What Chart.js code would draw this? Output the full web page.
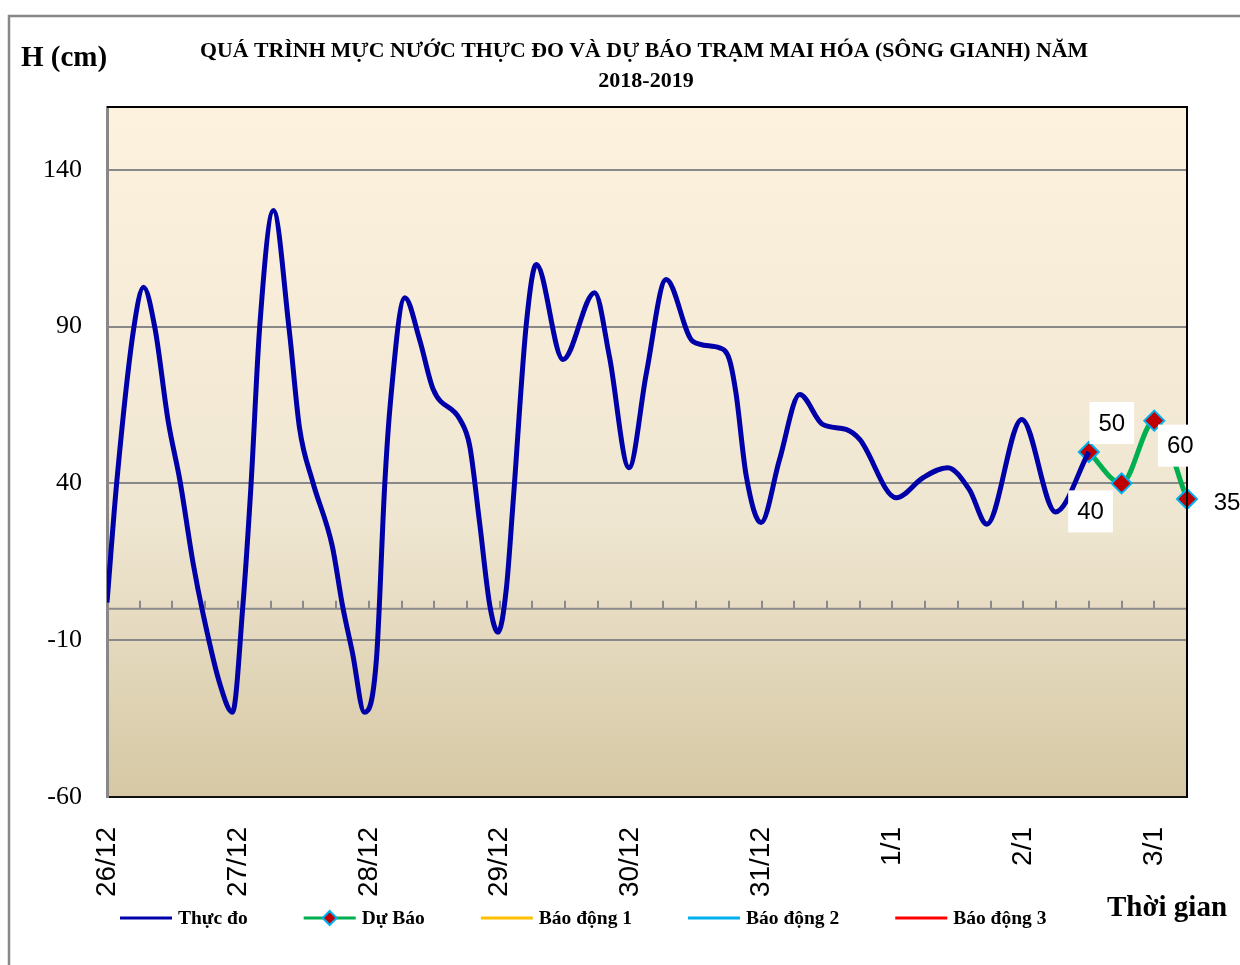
<!DOCTYPE html>
<html>
<head>
<meta charset="utf-8">
<title>Mực nước Mai Hóa</title>
<script src="https://cdn.jsdelivr.net/npm/chart.js@4.4.1/dist/chart.umd.min.js"></script>
<style>
    html, body { margin: 0; padding: 0; background: #ffffff; }
    #wrap { width: 1240px; height: 965px; position: relative; }
</style>
</head>
<body>
<div id="wrap"><canvas id="lineChart" width="1240" height="965"></canvas></div>
<script>
// Time axis: hours counted from 26/12 00h
const dayHours = [0, 24, 48, 72, 96, 120, 144, 168, 192];
const dayLabels = ['26/12', '27/12', '28/12', '29/12', '30/12', '31/12', '1/1', '2/1', '3/1'];
const yTicks = [-60, -10, 40, 90, 140];

const obsHours = [0, 1.8, 4.9, 6.7, 8.8, 11.2, 13.4, 15.8, 17.6, 20.7, 23, 24.9, 26.4, 28, 30.5,
    33.4, 35.3, 37.7, 41.3, 43.2, 45, 47.2, 49.4, 50.9, 51.9, 54.6, 57.3, 59.8, 64.7, 66.5, 68.3,
    70.2, 71.7, 73.2, 74.4, 76.9, 78.7, 83.6, 89.4, 92.1, 95.7, 98.9, 102.5,
    107.4, 112.3, 114.1, 115.3, 117.2, 119.9, 123.3, 127, 131.2, 135.5, 138, 144.7, 149.6, 154.1,
    158.1, 161.3, 167.7, 173.9, 180];
const obsValues = [2, 40.6, 89.4, 102.5, 89.4, 60, 40.6, 14.4, -1.5, -24, -33, 0.8, 39.4, 90, 127,
    89, 57.6, 40.6, 20, 0.8, -14, -33, -16, 39, 64.6, 99.2, 85.9, 70, 60.4, 51.9, 27.6,
    0.9, -7.5, 6.2, 32.7, 91.3, 109.8, 79.5, 100.8, 80.5, 45, 75.3, 105,
    85.3, 83.2, 79.5, 68.9, 42.3, 27.5, 47.6, 68.3, 58.8, 57.2, 54, 35.4, 41.8, 45,
    38, 27, 60.4, 30.9, 50];

// Dự Báo (forecast)
const fcHours = [180, 186, 192, 198];
const fcValues = [50, 40, 60, 35];

// style only: where each forecast value label sits relative to its marker
const fcLabelOffsets = [[23, -29], [-31, 28], [26, 25], [40, 3]];

const pairs = (xs, ys) => xs.map((x, i) => ({ x: x, y: ys[i] }));

// background gradient, frame, title, axis names
const decorPlugin = {
    id: 'decor',
    beforeDraw(chart) {
        const ctx = chart.ctx;
        const a = chart.chartArea;
        ctx.save();
        ctx.fillStyle = '#ffffff';
        ctx.fillRect(0, 0, chart.width, chart.height);
        ctx.strokeStyle = '#888888';
        ctx.lineWidth = 2.5;
        ctx.strokeRect(9, 16, chart.width + 20, chart.height + 20);

        const g = ctx.createLinearGradient(0, a.top, 0, a.bottom);
        g.addColorStop(0, '#FDF2DE');
        g.addColorStop(0.6, '#EFE6D1');
        g.addColorStop(1, '#D6C8A4');
        ctx.fillStyle = g;
        ctx.fillRect(a.left, a.top, a.right - a.left, a.bottom - a.top);

        ctx.fillStyle = '#000000';
        ctx.textAlign = 'center';
        ctx.textBaseline = 'middle';
        ctx.font = 'bold 22px "Liberation Serif"';
        ctx.fillText('QUÁ TRÌNH MỰC NƯỚC THỰC ĐO VÀ DỰ BÁO TRẠM MAI HÓA (SÔNG GIANH) NĂM', 644, 51, 888);
        ctx.fillText('2018-2019', 646, 81);
        ctx.textAlign = 'left';
        ctx.font = 'bold 29px "Liberation Serif"';
        ctx.fillText('H (cm)', 21, 59, 87);
        ctx.fillText('Thời gian', 1107, 909, 121);
        ctx.restore();
    },
    beforeDatasetsDraw(chart) {
        // zero line with 6-hour tick marks
        const ctx = chart.ctx;
        const a = chart.chartArea;
        const xs = chart.scales.x;
        const y0 = chart.scales.y.getPixelForValue(0);
        ctx.save();
        ctx.strokeStyle = '#8a8a8a';
        ctx.lineWidth = 2;
        ctx.beginPath();
        ctx.moveTo(a.left, y0);
        ctx.lineTo(a.right, y0);
        for (let h = 6; h <= xs.max; h += 6) {
            const px = Math.round(xs.getPixelForValue(h));
            ctx.moveTo(px, y0);
            ctx.lineTo(px, y0 - 8);
        }
        ctx.stroke();
        ctx.restore();
    },
    afterDatasetsDraw(chart) {
        const ctx = chart.ctx;
        const a = chart.chartArea;
        ctx.save();
        // plot border: top, right
        ctx.strokeStyle = '#000000';
        ctx.lineWidth = 2;
        ctx.beginPath();
        ctx.moveTo(a.left, a.top);
        ctx.lineTo(a.right, a.top);
        ctx.lineTo(a.right, a.bottom);
        ctx.stroke();

        // forecast value labels
        const meta = chart.getDatasetMeta(1);
        ctx.font = '24px "Liberation Sans"';
        ctx.textAlign = 'center';
        ctx.textBaseline = 'middle';
        meta.data.forEach((pt, i) => {
            const cx = pt.x + fcLabelOffsets[i][0];
            const cy = pt.y + fcLabelOffsets[i][1];
            const txt = String(fcValues[i]);
            const w = ctx.measureText(txt).width + 18;
            ctx.fillStyle = '#ffffff';
            ctx.fillRect(cx - w / 2, cy - 21, w, 42);
            ctx.fillStyle = '#000000';
            ctx.fillText(txt, cx, cy + 1);
        });

        // legend row
        let x = 120;
        const ly = 918;
        ctx.font = 'bold 19.5px "Liberation Serif"';
        ctx.textAlign = 'left';
        chart.data.datasets.forEach(ds => {
            ctx.strokeStyle = ds.borderColor;
            ctx.lineWidth = 3;
            ctx.beginPath();
            ctx.moveTo(x, ly);
            ctx.lineTo(x + 52, ly);
            ctx.stroke();
            if (ds.pointRadius > 0) {
                const mx = x + 26;
                ctx.beginPath();
                ctx.moveTo(mx, ly - 7);
                ctx.lineTo(mx + 7, ly);
                ctx.lineTo(mx, ly + 7);
                ctx.lineTo(mx - 7, ly);
                ctx.closePath();
                ctx.fillStyle = ds.backgroundColor;
                ctx.fill();
                ctx.strokeStyle = ds.pointBorderColor;
                ctx.lineWidth = 2;
                ctx.stroke();
            }
            ctx.fillStyle = '#000000';
            ctx.fillText(ds.label, x + 58, ly + 1);
            x += 58 + ctx.measureText(ds.label).width + 56;
        });
        ctx.restore();
    }
};

document.addEventListener('DOMContentLoaded', function() {
    const ctx = document.getElementById('lineChart').getContext('2d');
    const chart = new Chart(ctx, {
        type: 'line',
        data: {
            datasets: [{
                label: 'Thực đo',
                data: pairs(obsHours, obsValues),
                borderColor: '#0000A8',
                backgroundColor: '#0000A8',
                borderWidth: 5,
                pointRadius: 0,
                cubicInterpolationMode: 'monotone'
            }, {
                label: 'Dự Báo',
                data: pairs(fcHours, fcValues),
                borderColor: '#00B050',
                backgroundColor: '#C00000',
                pointBorderColor: '#00B0F0',
                pointBackgroundColor: '#C00000',
                pointStyle: 'rectRot',
                pointRadius: 10,
                pointBorderWidth: 2,
                borderWidth: 5,
                cubicInterpolationMode: 'monotone',
                clip: false
            }, {
                label: 'Báo động 1',
                data: [],
                borderColor: '#FFC000',
                pointRadius: 0
            }, {
                label: 'Báo động 2',
                data: [],
                borderColor: '#00B0F0',
                pointRadius: 0
            }, {
                label: 'Báo động 3',
                data: [],
                borderColor: '#FF0000',
                pointRadius: 0
            }]
        },
        options: {
            responsive: false,
            animation: false,
            layout: { padding: { left: 0, right: 53, top: 107, bottom: 0 } },
            plugins: {
                legend: { display: false },
                tooltip: { enabled: false }
            },
            scales: {
                x: {
                    type: 'linear',
                    min: 0,
                    max: 198,
                    afterBuildTicks: s => { s.ticks = dayHours.map(v => ({ value: v })); },
                    afterFit: s => { s.height = 168; },
                    grid: { display: false, drawTicks: false },
                    border: { display: true, color: '#111111', width: 2 },
                    ticks: {
                        autoSkip: false,
                        minRotation: 90,
                        maxRotation: 90,
                        padding: 30,
                        color: '#000000',
                        font: { family: '"Liberation Sans"', size: 28 },
                        callback: v => dayLabels[dayHours.indexOf(v)]
                    }
                },
                y: {
                    min: -60,
                    max: 160,
                    afterBuildTicks: s => { s.ticks = yTicks.map(v => ({ value: v })); },
                    afterFit: s => { s.width = 107; },
                    grid: { color: '#888888', lineWidth: 2, drawTicks: false },
                    border: { display: true, color: '#888888', width: 3 },
                    ticks: {
                        padding: 25,
                        color: '#000000',
                        font: { family: '"Liberation Serif"', size: 26 }
                    }
                }
            }
        },
        plugins: [decorPlugin]
    });
});
</script>
</body>
</html>
